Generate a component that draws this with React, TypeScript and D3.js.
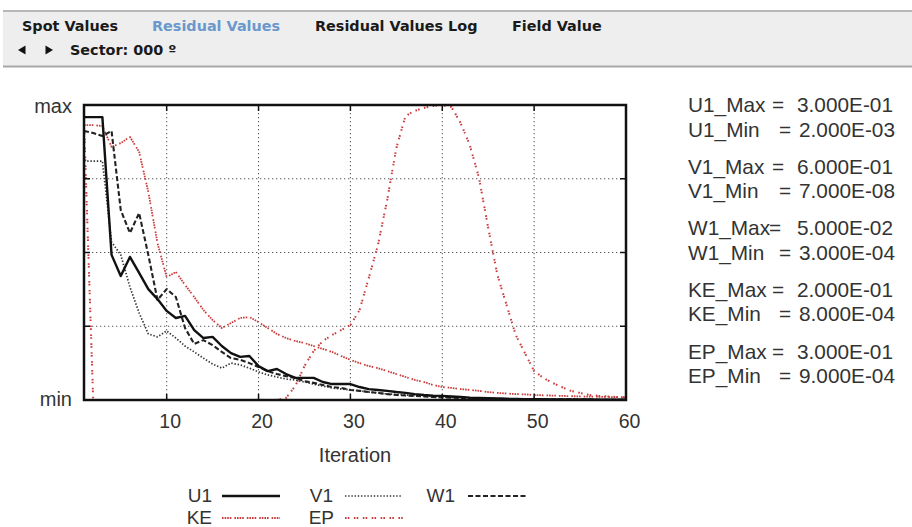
import React from "react";
import * as d3 from "d3";

const iterations: number[] = d3.range(1, 61);
const xTicks: number[] = [10, 20, 30, 40, 50, 60];
const yGrid: number[] = [0.25, 0.5, 0.75];

const u1: number[] = [
  0.959, 0.959, 0.959, 0.492, 0.42, 0.485, 0.431, 0.376, 0.342, 0.302,
  0.278, 0.285, 0.237, 0.21, 0.214, 0.183, 0.159, 0.146, 0.149, 0.115,
  0.098, 0.105, 0.088, 0.075, 0.075, 0.075, 0.061, 0.054, 0.054, 0.054,
  0.044, 0.037, 0.034, 0.031, 0.027, 0.024, 0.02, 0.017, 0.015, 0.014,
  0.012, 0.01, 0.008, 0.007, 0.006, 0.005, 0.004, 0.0035, 0.003, 0.003,
  0.0025, 0.002, 0.002, 0.002, 0.0015, 0.0015, 0.001, 0.001, 0.001, 0.001,
];
const v1: number[] = [
  0.81, 0.81, 0.81, 0.536, 0.492, 0.383, 0.295, 0.224, 0.214, 0.234,
  0.21, 0.183, 0.163, 0.142, 0.122, 0.108, 0.125, 0.119, 0.108, 0.095,
  0.085, 0.078, 0.071, 0.068, 0.061, 0.054, 0.047, 0.041, 0.037, 0.034,
  0.031, 0.027, 0.024, 0.02, 0.019, 0.017, 0.015, 0.014, 0.012, 0.01,
  0.009, 0.008, 0.007, 0.006, 0.005, 0.004, 0.004, 0.0035, 0.003, 0.003,
  0.0025, 0.002, 0.002, 0.002, 0.0015, 0.0015, 0.001, 0.001, 0.001, 0.001,
];
const w1: number[] = [
  0.912, 0.905, 0.895, 0.912, 0.644, 0.566, 0.634, 0.492, 0.339, 0.376,
  0.349, 0.244, 0.19, 0.203, 0.186, 0.163, 0.142, 0.136, 0.125, 0.112,
  0.098, 0.088, 0.081, 0.075, 0.064, 0.058, 0.051, 0.044, 0.041, 0.034,
  0.031, 0.027, 0.024, 0.02, 0.017, 0.015, 0.014, 0.012, 0.01, 0.009,
  0.008, 0.007, 0.006, 0.005, 0.0045, 0.004, 0.0035, 0.003, 0.003, 0.0025,
  0.0025, 0.002, 0.002, 0.002, 0.0015, 0.0015, 0.001, 0.001, 0.001, 0.001,
];
const ke: number[] = [
  0.932, 0.932, 0.929, 0.858, 0.871, 0.892, 0.841, 0.705, 0.532, 0.417,
  0.434, 0.39, 0.349, 0.305, 0.271, 0.244, 0.261, 0.278, 0.281, 0.264,
  0.244, 0.224, 0.21, 0.2, 0.193, 0.183, 0.173, 0.163, 0.149, 0.136,
  0.125, 0.115, 0.108, 0.098, 0.088, 0.078, 0.068, 0.061, 0.051, 0.044,
  0.041, 0.037, 0.034, 0.031, 0.027, 0.024, 0.022, 0.02, 0.019, 0.017,
  0.016, 0.015, 0.014, 0.013, 0.012, 0.0115, 0.011, 0.01, 0.0098, 0.009,
];
const ep: number[] = [
  0.946, 0, 0, 0, 0, 0, 0, 0, 0, 0,
  0, 0, 0, 0, 0, 0, 0, 0, 0, 0,
  0, 0, 0.007, 0.047, 0.115, 0.166, 0.2, 0.22, 0.237, 0.254,
  0.305, 0.414, 0.525, 0.678, 0.854, 0.963, 0.98, 0.99, 0.997, 1.0,
  0.993, 0.939, 0.864, 0.753, 0.583, 0.424, 0.322, 0.22, 0.159, 0.098,
  0.075, 0.058, 0.044, 0.031, 0.024, 0.017, 0.014, 0.012, 0.01, 0.009,
];

const seriesNames: string[] = ["U1", "V1", "W1", "KE", "EP"];
const maxValues: string[] = ["3.000E-01", "6.000E-01", "5.000E-02", "2.000E-01", "3.000E-01"];
const minValues: string[] = ["2.000E-03", "7.000E-08", "3.000E-04", "8.000E-04", "9.000E-04"];
const tabs: string[] = ["Spot Values", "Residual Values", "Residual Values Log", "Field Value"];

const RED = "#cc3c3c";
const styles: Record<string, { stroke: string; width: number; dash?: string }> = {
  U1: { stroke: "#111", width: 2.4 },
  V1: { stroke: "#333", width: 1.7, dash: "1.4,1.8" },
  W1: { stroke: "#222", width: 2.1, dash: "5,2.5" },
  KE: { stroke: RED, width: 1.8, dash: "1.6,1,1.6,1,1.6,1,1.6,3" },
  EP: { stroke: RED, width: 2, dash: "1.6,1.2,1.6,4.5" },
};

const FONT = "'Liberation Sans', Arial, sans-serif";
const TXT = "#333";

export default function App() {
  const left = 84, right = 626, top = 105, bottom = 400;
  const x = d3.scaleLinear().domain([1, 60]).range([left, right]);
  const y = d3.scaleLinear().domain([0, 1]).range([bottom, top]);
  const line = d3.line<number>().x((_, i) => x(iterations[i])).y((d) => y(d));
  const data: Record<string, number[]> = { U1: u1, V1: v1, W1: w1, KE: ke, EP: ep };
  const drawOrder = ["EP", "KE", "V1", "W1", "U1"];

  const tabX = [22, 152, 315, 512];
  const legendPos: Record<string, [number, number]> = {
    U1: [212, 496], V1: [333, 496], W1: [455, 496], KE: [212, 518], EP: [334, 518],
  };
  const legendLine: Record<string, [number, number]> = {
    U1: [222, 280], V1: [345, 402], W1: [468, 527], KE: [222, 280], EP: [345, 403],
  };
  const statY = [105, 130, 167, 191, 228, 253, 290, 314, 352, 376];

  return (
    <svg width={912} height={527} style={{ position: "absolute", left: 0, top: 0, background: "#fff" }}>
      {/* header */}
      <rect x={3} y={11} width={909} height={56} fill="#eeeeee" />
      <line x1={3} x2={912} y1={11} y2={11} stroke="#b8b8b8" strokeWidth={2} />
      <line x1={3} x2={912} y1={66.5} y2={66.5} stroke="#a8a8a8" strokeWidth={2} />
      {tabs.map((t, i) => (
        <text key={t} x={tabX[i]} y={30.5} fontFamily="'DejaVu Sans', sans-serif" fontWeight="bold"
          fontSize={14.4} fill={i === 1 ? "#6a98cc" : "#1a1a1a"}>{t}</text>
      ))}
      <path d="M18,50 L25.5,45.5 L25.5,54.5 Z" fill="#111" />
      <path d="M53,50 L45.5,45.5 L45.5,54.5 Z" fill="#111" />
      <text x={70} y={54.5} fontFamily="'DejaVu Sans', sans-serif" fontWeight="bold" fontSize={14.4}
        fill="#1a1a1a">Sector: 000 º</text>

      {/* grid */}
      {xTicks.slice(0, -1).map((t) => (
        <line key={"gx" + t} x1={x(t)} x2={x(t)} y1={top} y2={bottom} stroke="#555" strokeWidth={1} strokeDasharray="1.3,2.7" />
      ))}
      {yGrid.map((t) => (
        <line key={"gy" + t} x1={left} x2={right} y1={y(t)} y2={y(t)} stroke="#555" strokeWidth={1} strokeDasharray="1.3,2.7" />
      ))}

      {/* series */}
      {drawOrder.map((k) => (
        <path key={k} d={line(data[k]) || ""} fill="none" stroke={styles[k].stroke}
          strokeWidth={styles[k].width} strokeDasharray={styles[k].dash} strokeLinejoin="round" />
      ))}

      {/* ticks */}
      {xTicks.map((t) => (
        <g key={"tx" + t}>
          <line x1={x(t)} x2={x(t)} y1={bottom} y2={bottom - 6} stroke="#111" strokeWidth={1.5} />
          <line x1={x(t)} x2={x(t)} y1={top} y2={top + 6} stroke="#111" strokeWidth={1.5} />
          <text x={x(t) + 3.5} y={428} textAnchor="middle" fontFamily={FONT} fontSize={19.5} fill={TXT}>{t}</text>
        </g>
      ))}
      {yGrid.map((t) => (
        <g key={"ty" + t}>
          <line x1={left} x2={left + 6} y1={y(t)} y2={y(t)} stroke="#111" strokeWidth={1.5} />
          <line x1={right} x2={right - 6} y1={y(t)} y2={y(t)} stroke="#111" strokeWidth={1.5} />
        </g>
      ))}
      <rect x={left} y={top} width={right - left} height={bottom - top} fill="none" stroke="#111" strokeWidth={2.5} />

      <text x={72} y={113} textAnchor="end" fontFamily={FONT} fontSize={20} fill={TXT}>max</text>
      <text x={72} y={406} textAnchor="end" fontFamily={FONT} fontSize={20} fill={TXT}>min</text>
      <text x={355} y={462} textAnchor="middle" fontFamily={FONT} fontSize={20} fill={TXT}>Iteration</text>

      {/* legend */}
      {seriesNames.map((k) => (
        <g key={"lg" + k}>
          <text x={legendPos[k][0]} y={legendPos[k][1] + 6} textAnchor="end" fontFamily={FONT} fontSize={19} fill={TXT}>{k}</text>
          <line x1={legendLine[k][0]} x2={legendLine[k][1]} y1={legendPos[k][1]} y2={legendPos[k][1]}
            stroke={styles[k].stroke} strokeWidth={styles[k].width} strokeDasharray={styles[k].dash} />
        </g>
      ))}

      {/* stats */}
      {seriesNames.map((k, i) => (
        <g key={"st" + k}>
          <text x={688} y={statY[2 * i] + 7} fontFamily={FONT} fontSize={20.8} fill={TXT}>{k + "_Max"}</text>
          <text x={i === 2 ? 775 : 778} y={statY[2 * i] + 7} textAnchor="middle" fontFamily={FONT} fontSize={20.8} fill={TXT}>=</text>
          <text x={797} y={statY[2 * i] + 7} fontFamily={FONT} fontSize={20.8} fill={TXT}>{maxValues[i]}</text>
          <text x={688} y={statY[2 * i + 1] + 7} fontFamily={FONT} fontSize={20.8} fill={TXT}>{k + "_Min"}</text>
          <text x={785} y={statY[2 * i + 1] + 7} textAnchor="middle" fontFamily={FONT} fontSize={20.8} fill={TXT}>=</text>
          <text x={799} y={statY[2 * i + 1] + 7} fontFamily={FONT} fontSize={20.8} fill={TXT}>{minValues[i]}</text>
        </g>
      ))}
    </svg>
  );
}
